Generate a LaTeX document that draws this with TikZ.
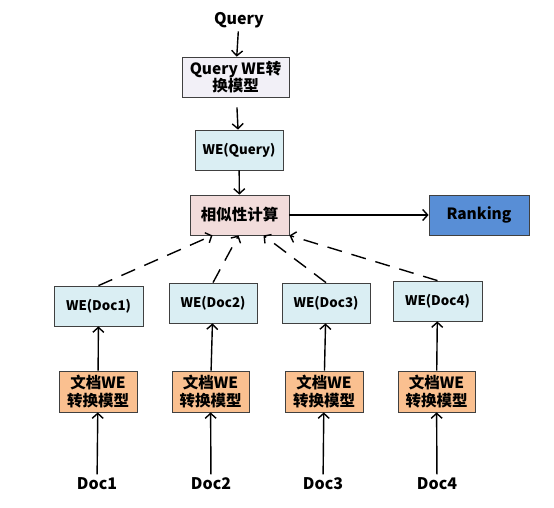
\documentclass[tikz,border=0pt]{standalone}
\usepackage{fontspec}
\setmainfont{Noto Sans CJK SC}
\usepackage{tikz}
\usetikzlibrary{arrows.meta}

\definecolor{qgray}{RGB}{242,240,247}
\definecolor{weblue}{RGB}{218,238,243}
\definecolor{simpink}{RGB}{242,220,219}
\definecolor{rankblue}{RGB}{88,142,214}
\definecolor{modorange}{RGB}{250,192,144}

\begin{document}
\begin{tikzpicture}
[x=1pt,y=-1pt,
 box/.style={draw=black!75,line width=.8pt,inner sep=0pt,minimum height=40pt,align=center,font=\bfseries\fontsize{13.3}{15}\selectfont},
 big/.style={font=\bfseries\fontsize{15.5}{17.5}\selectfont},
 lbl/.style={font=\bfseries\fontsize{16}{18}\selectfont},
 arr/.style={-{Straight Barb[length=5pt,width=11pt]},line width=1.4pt},
 dsh/.style={arr,dash pattern=on 15pt off 10pt}]
\useasboundingbox (0,0) rectangle (554,507);

\node[lbl] (v1) at (239,20) {Query};
\node[box,big,fill=qgray,minimum width=107pt] (v2) at (235.5,77) {Query WE转\\换模型};
\node[box,fill=weblue,minimum width=88pt] (v3) at (239,150) {WE(Query)};
\node[box,big,fill=simpink,minimum width=99pt] (v4) at (239.5,215) {相似性计算};
\node[box,big,fill=rankblue,minimum width=100pt] (v5) at (479,215) {Ranking};

\node[box,fill=weblue,minimum width=89pt] (v6) at (98.5,306) {WE(Doc1)};
\node[box,fill=weblue,minimum width=88pt] (v7) at (213,303) {WE(Doc2)};
\node[box,fill=weblue,minimum width=88pt] (v8) at (326,303) {WE(Doc3)};
\node[box,fill=weblue,minimum width=89pt] (v9) at (437.5,301) {WE(Doc4)};

\node[box,big,fill=modorange,minimum width=78pt,minimum height=41pt] (v10) at (98,391.5) {文档WE\\转换模型};
\node[box,big,fill=modorange,minimum width=77pt,minimum height=41pt] (v11) at (210.5,391.5) {文档WE\\转换模型};
\node[box,big,fill=modorange,minimum width=78pt,minimum height=41pt] (v12) at (324,391.5) {文档WE\\转换模型};
\node[box,big,fill=modorange,minimum width=77pt,minimum height=41pt] (v13) at (436.5,391.5) {文档WE\\转换模型};

\node[lbl] (v14) at (97,484) {Doc1};
\node[lbl] (v15) at (211,484) {Doc2};
\node[lbl] (v16) at (323,484) {Doc3};
\node[lbl] (v17) at (437,484) {Doc4};

\draw[arr] (v1) -- (v2);
\draw[arr,shorten <=10pt] (v2) -- (v3);
\draw[arr] (v3) -- (v4);
\draw[arr] (v4) -- (v5);

\foreach \from/\to in {v14/v10,v15/v11,v16/v12,v17/v13,v10/v6,v11/v7,v12/v8,v13/v9}
\draw[arr] (\from) -- (\to);

\draw[dsh] (v6.north) -- ([xshift=-27pt]v4.south);
\draw[dsh] (v7.north) -- ([xshift=-1pt]v4.south);
\draw[dsh] (v8.north) -- ([xshift=24pt]v4.south);
\draw[dsh] (v9.north) -- (v4.south east);
\end{tikzpicture}
\end{document}
